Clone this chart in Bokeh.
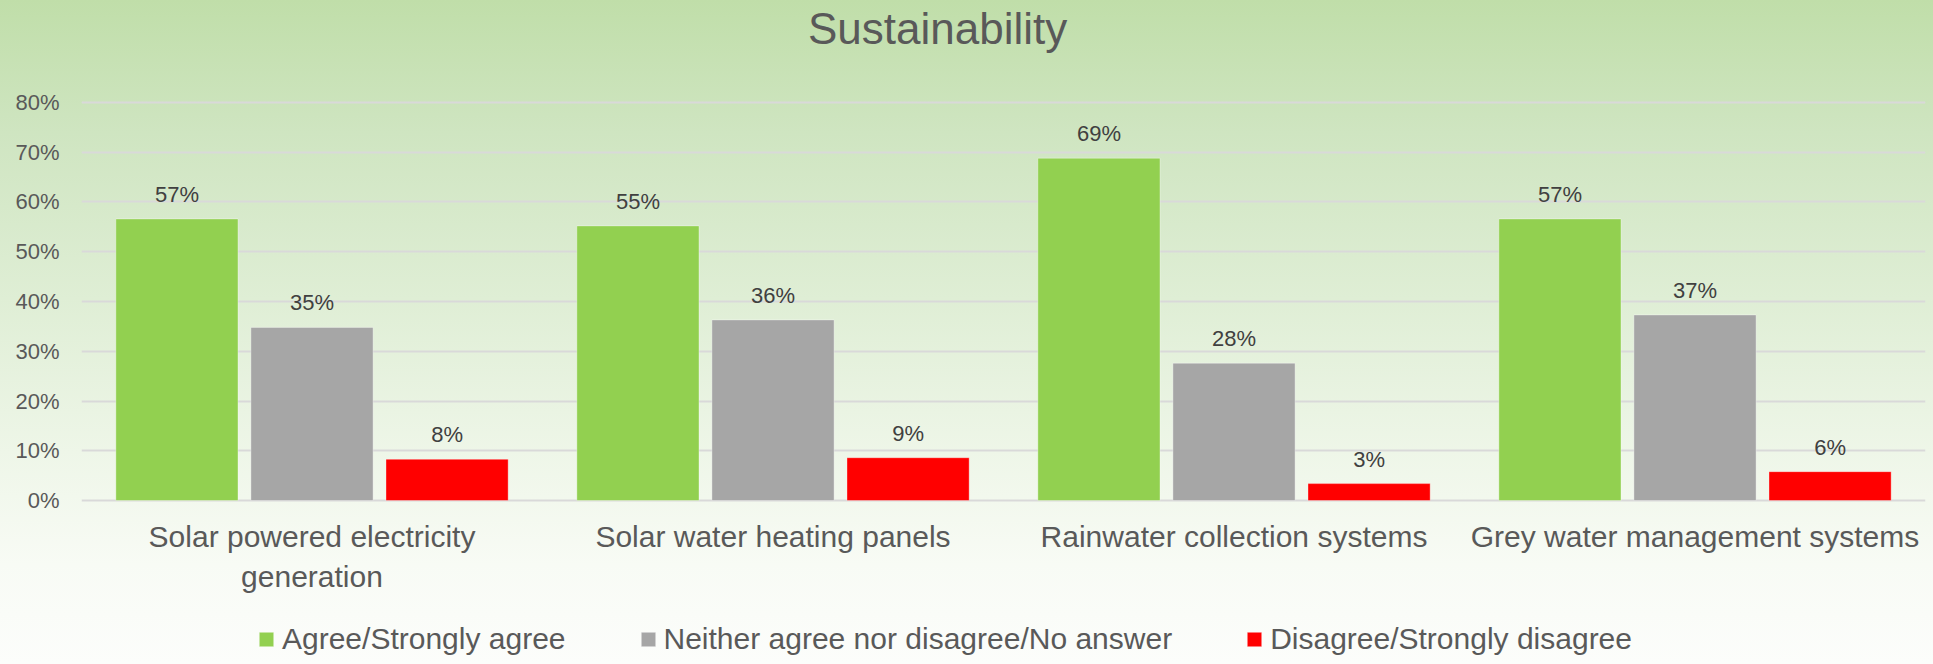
from bokeh.plotting import figure
from bokeh.models import (ColumnDataSource, FactorRange, Legend, LegendItem, LabelSet,
                          Label, NumeralTickFormatter, FixedTicker)
from bokeh.core.properties import value
from bokeh.transform import dodge
from bokeh.embed import file_html
from bokeh.resources import INLINE

categories = ["Solar powered electricity\ngeneration", "Solar water heating panels",
              "Rainwater collection systems", "Grey water management systems"]
series = ["Agree/Strongly agree", "Neither agree nor disagree/No answer", "Disagree/Strongly disagree"]
agree = [0.566, 0.552, 0.688, 0.566]
neither = [0.348, 0.363, 0.276, 0.373]
disagree = [0.083, 0.086, 0.034, 0.058]
colors = ["#92d050", "#a6a6a6", "#ff0000"]
title_text = "Sustainability"
y_ticks = [0.0, 0.1, 0.2, 0.3, 0.4, 0.5, 0.6, 0.7, 0.8]

FONT = "Liberation Sans"
TXT = "#595959"

def lab(v):
    return [f"{round(x * 100):d}%" for x in v]

src = ColumnDataSource(dict(
    cat=categories, agree=agree, neither=neither, disagree=disagree,
    agree_l=lab(agree), neither_l=lab(neither), disagree_l=lab(disagree),
))

# frame spans the full canvas height so that title, category labels and legend sit inside it
p = figure(x_range=FactorRange(*categories), y_range=(-0.3296, 1.005),
           width=1933, height=664, output_backend="svg", toolbar_location=None,
           min_border_left=81, min_border_right=8, min_border_top=0, min_border_bottom=0)
p.styles = {"background": "linear-gradient(to bottom, #c0dea9 0%, #cfe5c1 20%, #dfeed5 45%, #eef6e8 68%, #f8fbf5 85%, #fcfdfb 100%)"}
p.border_fill_color = None
p.background_fill_color = None
p.outline_line_color = None

offs = [-0.293, 0.0, 0.293]
keys = ["agree", "neither", "disagree"]
renderers = []
for k, c, o in zip(keys, colors, offs):
    r = p.vbar(x=dodge("cat", o, range=p.x_range), top=k, width=0.265, source=src,
               fill_color=c, line_color="white", line_alpha=0.35, line_width=1)
    renderers.append(r)
    ls = LabelSet(x=dodge("cat", o, range=p.x_range), y=k, text=k + "_l", source=src,
                  text_align="center", text_baseline="alphabetic", y_offset=17,
                  text_font=value(FONT), text_font_size=value("22px"), text_color=value("#404040"))
    p.add_layout(ls)

# category labels under the bars
p.text(x="cat", y=-0.039, text="cat", source=src, text_align="center", text_baseline="top",
       text_font=value(FONT), text_font_size="30px", text_color=TXT, text_line_height=1.23)

# axes
p.yaxis.ticker = FixedTicker(ticks=y_ticks)
p.yaxis.formatter = NumeralTickFormatter(format="0%")
p.yaxis.major_label_text_font = FONT
p.yaxis.major_label_text_font_size = "22px"
p.yaxis.major_label_text_color = TXT
p.yaxis.axis_line_color = None
p.yaxis.major_tick_line_color = None
p.yaxis.major_tick_out = 0
p.yaxis.major_tick_in = 0
p.yaxis.minor_tick_line_color = None
p.yaxis.major_label_standoff = 22
p.xaxis.visible = False

p.xgrid.grid_line_color = None
p.ygrid.ticker = FixedTicker(ticks=y_ticks)
p.ygrid.grid_line_color = "#d9d9d9"
p.ygrid.grid_line_width = 2

title = Label(x=1.857, y=0.949, text=title_text, text_align="center", text_baseline="alphabetic",
              text_font=FONT, text_font_size="44px", text_color=TXT)
p.add_layout(title)

legend = Legend(items=[LegendItem(label=s, renderers=[r]) for s, r in zip(series, renderers)],
                orientation="horizontal", location=(176, 8),
                glyph_width=18, glyph_height=18, label_standoff=7, spacing=73,
                padding=0, margin=0, border_line_color=None, background_fill_alpha=0,
                label_text_font=FONT, label_text_font_size="30px", label_text_color=TXT,
                label_height=30)
p.add_layout(legend, "center")

open("out.html", "w").write(file_html(p, INLINE))
